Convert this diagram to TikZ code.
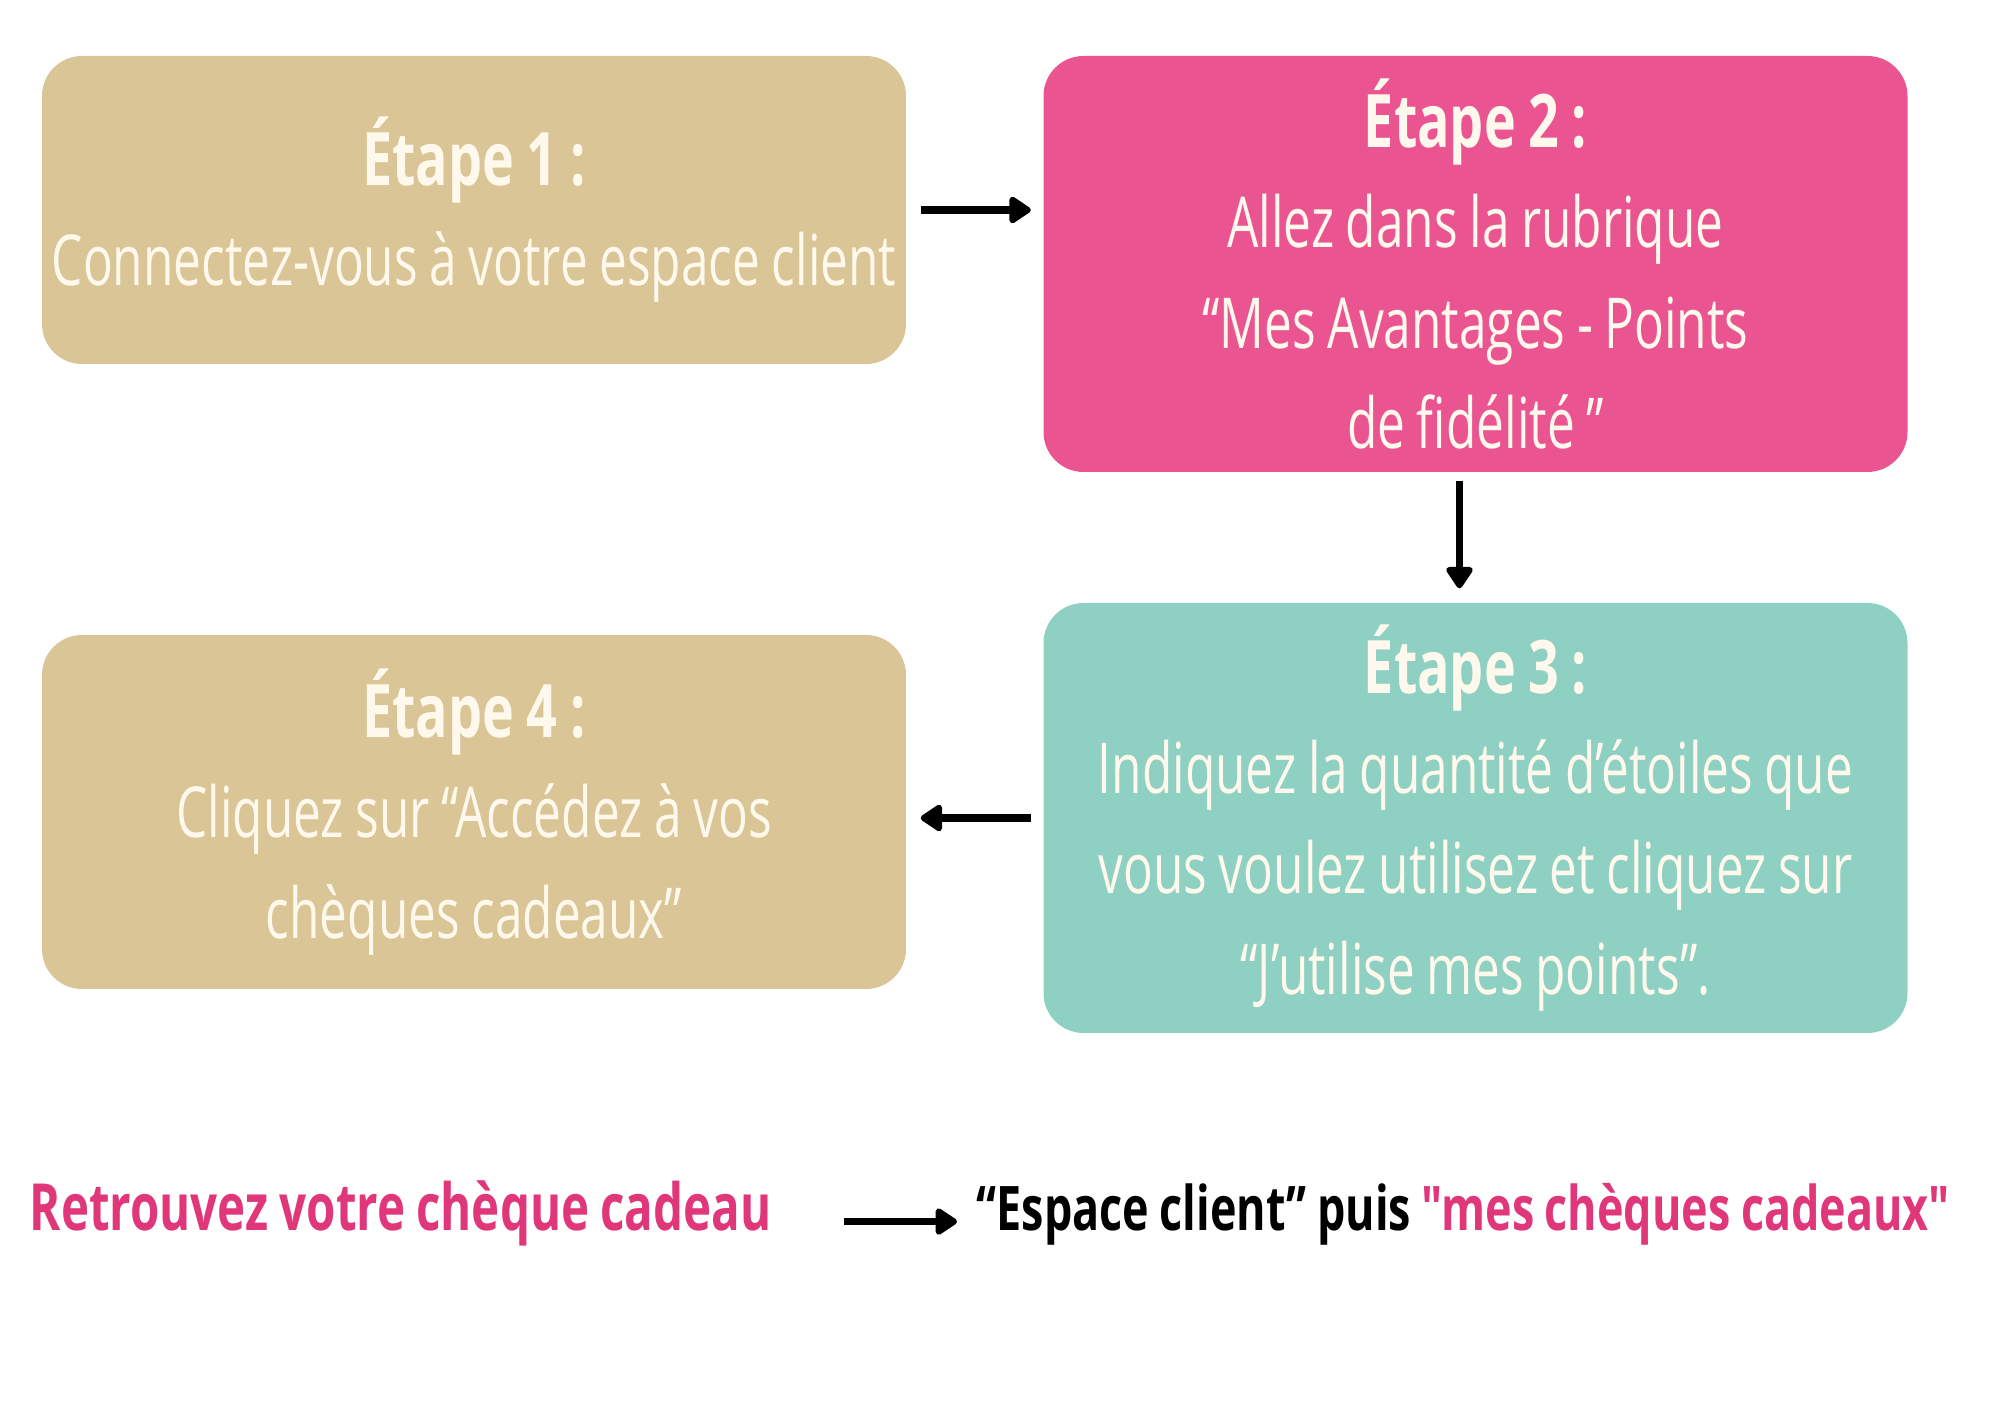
\documentclass[tikz,border=0pt]{standalone}
\usepackage{fontspec}
\setmainfont{Open Sans}[FakeStretch=0.705, WordSpace=0.9, BoldFeatures={FakeStretch=0.73}]
\newfontfamily\droite{Open Sans}[FakeStretch=0.705, WordSpace=0.9, BoldFeatures={FakeStretch=0.73}]
\usetikzlibrary{arrows.meta}
\usetikzlibrary{calc}
\definecolor{sable}{HTML}{D9C595}
\definecolor{fuchsia}{HTML}{EA5591}
\definecolor{menthe}{HTML}{8ED0C2}
\definecolor{creme}{HTML}{FFF8EC}
\definecolor{rosetexte}{HTML}{E0367A}

\begin{document}
\begin{tikzpicture}[x=0.1mm, y=0.1mm]
				\tikzstyle{etape}=[draw=none, rounded corners=0.4cm, text=creme, align=center, inner sep=0pt, minimum width=8.64cm, font=\fontsize{20}{28.5}\selectfont]
				\tikzstyle{fleche}=[-{Triangle[round, width=3mm, length=2.4mm]}, line width=0.72mm, black]
				%page frame
				\useasboundingbox (0,0) rectangle (2000,-1414);
				%%% STEP BOXES %%%
				%step 1 box
				\node[etape, fill=sable, minimum height=3.08cm] (etape1) at (474,-210) {{\bfseries\fontsize{21}{28.5}\selectfont Étape 1 :}\\Connectez-vous à votre espace client};
				%step 2 box
				\node[etape, fill=fuchsia, minimum height=4.16cm] (etape2) at (1475.5,-264) {{\bfseries\fontsize{21}{28.5}\selectfont Étape 2 :}\\Allez dans la rubrique\\“Mes Avantages - Points\\de fidélité ”};
				%step 3 box
				\node[etape, fill=menthe, minimum height=4.30cm] (etape3) at (1475.5,-818) {{\bfseries\fontsize{21}{28.5}\selectfont Étape 3 :}\\Indiquez la quantité d’étoiles que\\vous voulez utilisez et cliquez sur\\“J’utilise mes points”.};
				%step 4 box
				\node[etape, fill=sable, minimum height=3.54cm] (etape4) at (474,-812) {{\bfseries\fontsize{21}{28.5}\selectfont Étape 4 :}\\Cliquez sur “Accédez à vos\\chèques cadeaux”};
				%%% ARROWS BETWEEN STEPS %%%
				%step 1 to step 2
				\draw[fleche, shorten <=1.4mm, shorten >=1.2mm] (etape1.east) -- (etape1.east -| etape2.west);
				%step 2 to step 3
				\draw[fleche, shorten <=0.8mm, shorten >=1.4mm] ($(etape2.south)+(-16,0)$) -- ($(etape3.north)+(-16,0)$);
				%step 3 to step 4
				\draw[fleche, shorten <=1.2mm, shorten >=1.4mm] (etape3.west) -- (etape3.west -| etape4.east);
				%%% BOTTOM LINE %%%
				\node[anchor=base west, inner sep=0pt, text=rosetexte, font=\fontsize{18.5}{22}\selectfont\bfseries] (retrouvez) at (29,-1231) {Retrouvez votre chèque cadeau};
				\node[anchor=base west, inner sep=0pt, font=\fontsize{17.5}{22}\selectfont\bfseries] (espace) at (976,-1231) {“Espace client” puis \textcolor{rosetexte}{\droite "mes chèques cadeaux"}};
				%arrow to where the cheque is
				\draw[fleche, line width=0.68mm, shorten >=1.9mm] ($(retrouvez.mid east -| espace.west)+(-132,0)$) -- (retrouvez.mid east -| espace.west);
\end{tikzpicture}
\end{document}
